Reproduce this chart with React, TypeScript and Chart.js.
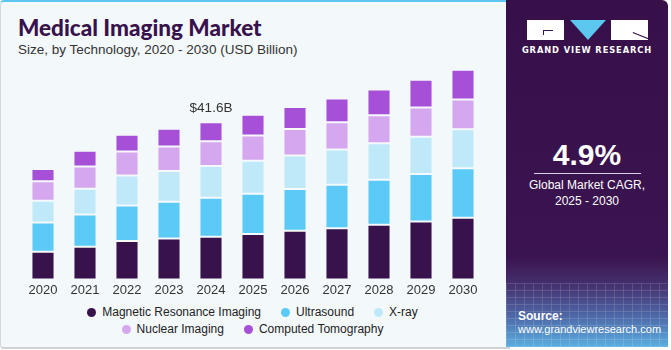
import React, { useEffect, useRef } from "react";
import { Chart, registerables } from "chart.js";

Chart.register(...registerables);

const years = ["2020", "2021", "2022", "2023", "2024", "2025", "2026", "2027", "2028", "2029", "2030"];
const mri = [7.33, 8.66, 10.17, 10.78, 11.3, 12.03, 12.83, 13.55, 14.42, 15.3, 16.28];
const ultrasound = [7.7, 8.5, 9.38, 9.74, 10.3, 10.62, 11.08, 11.5, 11.95, 12.59, 13.1];
const xray = [5.76, 6.82, 7.88, 8.15, 8.4, 8.68, 8.84, 9.3, 9.64, 9.83, 10.28];
const nuclear = [5.13, 5.84, 6.37, 6.45, 6.5, 6.72, 6.98, 7.17, 7.36, 7.7, 7.89];
const ct = [3.29, 4.17, 4.43, 4.7, 5.05, 5.5, 5.84, 6.29, 6.83, 7.33, 7.86];

const seriesNames = ["Magnetic Resonance Imaging", "Ultrasound", "X-ray", "Nuclear Imaging", "Computed Tomography"];
const seriesColors = ["#38124b", "#5ccaf6", "#bfe9f9", "#d5a7ee", "#a650d8"];
const annotationIndex = 4;
const annotationText = "$41.6B";

const FONT = "'Liberation Sans', Arial, sans-serif";

const annotationPlugin = {
  id: "annot",
  afterDatasetsDraw(chart: any) {
    const last = chart.getDatasetMeta(chart.data.datasets.length - 1);
    const el = last.data[annotationIndex];
    if (!el) return;
    const ctx = chart.ctx;
    ctx.save();
    ctx.font = `13.5px ${FONT}`;
    ctx.fillStyle = "#333333";
    ctx.textAlign = "center";
    ctx.textBaseline = "middle";
    ctx.fillText(annotationText, el.x, el.y - 14);
    ctx.restore();
  },
};

function BarChart() {
  const ref = useRef<HTMLCanvasElement>(null);
  useEffect(() => {
    if (!ref.current) return;
    const data = [mri, ultrasound, xray, nuclear, ct];
    const chart = new Chart(ref.current, {
      type: "bar",
      data: {
        labels: years,
        datasets: data.map((d, i) => ({
          label: seriesNames[i],
          data: d,
          backgroundColor: seriesColors[i],
          borderColor: "rgba(255,255,255,0.35)",
          borderWidth: 1,
          borderSkipped: false,
          barPercentage: 0.55,
          categoryPercentage: 1,
        })),
      },
      options: {
        responsive: false,
        devicePixelRatio: 1,
        animation: false,
        layout: { padding: { left: 22, right: 21, top: 12.4, bottom: 1 } },
        plugins: { legend: { display: false }, tooltip: { enabled: false } },
        scales: {
          x: {
            stacked: true,
            grid: { display: false, drawTicks: false },
            border: { display: false },
            ticks: { color: "#333333", font: { size: 13, family: FONT }, padding: 3 },
          },
          y: {
            stacked: true,
            display: false,
            min: 0,
            max: 60,
          },
        },
      },
      plugins: [annotationPlugin],
    });
    return () => chart.destroy();
  }, []);
  return <canvas ref={ref} width={505} height={262} style={{ position: "absolute", left: 0, top: 40, width: 505, height: 262 }} />;
}

function LegendItem({ name, color }: { name: string; color: string }) {
  return (
    <div style={{ display: "flex", alignItems: "center", marginRight: 20 }}>
      <span style={{ width: 9, height: 9, borderRadius: "50%", background: color, display: "inline-block", marginRight: 6 }} />
      <span>{name}</span>
    </div>
  );
}

export default function App() {
  const rows = [[0, 1, 2], [3, 4]];
  return (
    <div style={{ position: "fixed", left: 0, top: 0, width: 671, height: 350, background: "#ffffff", overflow: "hidden", fontFamily: FONT }}>
      <div style={{ position: "absolute", left: 0, top: 0, width: 510, height: 349, background: "#f3f8fb", borderTop: "2px solid #5cc8f0", borderLeft: "1px solid #d6d9dc", borderBottom: "2px solid #cfd2d5", borderRadius: "4px 0 0 4px", boxSizing: "border-box" }} />
      <div style={{ position: "absolute", left: 18, top: 14, fontFamily: "Lato, sans-serif", fontWeight: 900, fontSize: 22.5, color: "#38124b", whiteSpace: "nowrap", lineHeight: "27px" }}>Medical Imaging Market</div>
      <div style={{ position: "absolute", left: 18, top: 41, fontSize: 13.5, color: "#333333", whiteSpace: "nowrap", lineHeight: "18px" }}>Size, by Technology, 2020 - 2030 (USD Billion)</div>
      <BarChart />
      <div style={{ position: "absolute", left: 0, top: 304, width: 505, fontSize: 12, color: "#222222" }}>
        {rows.map((r, ri) => (
          <div key={ri} style={{ display: "flex", justifyContent: "center", height: 17, lineHeight: "17px", paddingLeft: 20 }}>
            {r.map((i) => <LegendItem key={i} name={seriesNames[i]} color={seriesColors[i]} />)}
          </div>
        ))}
      </div>
      {/* Right panel */}
      <div style={{ position: "absolute", left: 506, top: 0, width: 162, height: 347, borderRadius: "0 6px 0 0", overflow: "hidden", background: "linear-gradient(180deg, #37104a 0%, #3a1450 74%, #45306e 82%, #4d60a0 90%, #5aaee0 100%)" }}>
        <div style={{ position: "absolute", left: 0, top: 283, width: 162, height: 64, opacity: 0.22, backgroundImage: "repeating-linear-gradient(90deg, rgba(255,255,255,0.6) 0 1px, transparent 1px 9px), repeating-linear-gradient(0deg, rgba(255,255,255,0.6) 0 1px, transparent 1px 7px)" }} />
        {/* logo */}
        <div style={{ position: "absolute", left: 21, top: 20, width: 37, height: 20, background: "#ffffff" }}>
          <div style={{ position: "absolute", left: 16, top: 10, width: 10, height: 1, background: "#38124b" }} />
          <div style={{ position: "absolute", left: 16, top: 10, width: 1, height: 5, background: "#38124b" }} />
        </div>
        <div style={{ position: "absolute", left: 64, top: 20, width: 0, height: 0, borderLeft: "18px solid transparent", borderRight: "18px solid transparent", borderTop: "20px solid #5cc8f0" }} />
        <div style={{ position: "absolute", left: 105, top: 20, width: 37, height: 20, background: "#ffffff", overflow: "hidden" }}>
          <div style={{ position: "absolute", left: 22, top: 12, width: 17, height: 1, background: "#38124b", transform: "rotate(22deg)", transformOrigin: "0 0" }} />
        </div>
        <div style={{ position: "absolute", left: 0, top: 45, width: 162, textAlign: "center", color: "#ffffff", fontSize: 8.3, fontWeight: 700, letterSpacing: 0.9, fontFamily: "'DejaVu Sans', sans-serif" }}>GRAND VIEW RESEARCH</div>
        <div style={{ position: "absolute", left: 0, top: 137, width: 162, textAlign: "center", color: "#ffffff", fontSize: 30, fontWeight: 700, lineHeight: "36px" }}>4.9%</div>
        <div style={{ position: "absolute", left: 28, top: 173, width: 107, height: 1, background: "#d8d0e0" }} />
        <div style={{ position: "absolute", left: 0, top: 177, width: 162, textAlign: "center", color: "#ffffff", fontSize: 12, lineHeight: "16px" }}>Global Market CAGR,<br />2025 - 2030</div>
        <div style={{ position: "absolute", left: 12, top: 309, color: "#ffffff", fontSize: 12, fontWeight: 700, lineHeight: "15px" }}>Source:</div>
        <div style={{ position: "absolute", left: 12, top: 322, color: "#ffffff", fontSize: 11, lineHeight: "15px", whiteSpace: "nowrap" }}>www.grandviewresearch.com</div>
      </div>
    </div>
  );
}
